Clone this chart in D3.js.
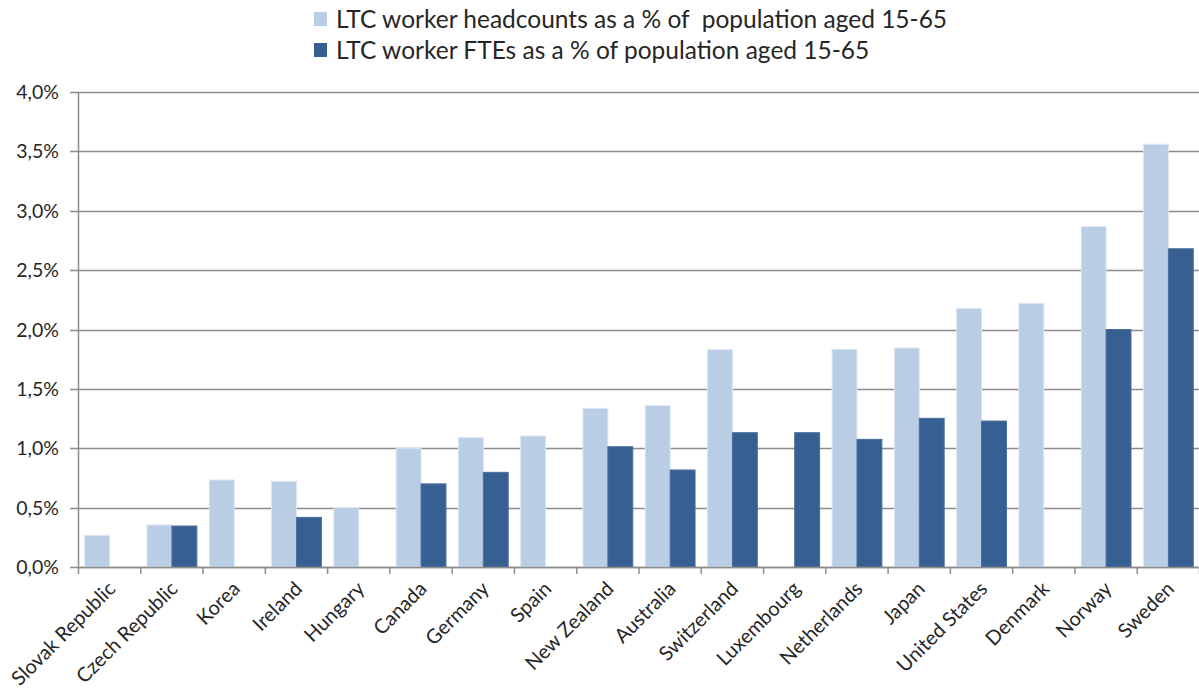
<!DOCTYPE html>
<html>
<head>
<meta charset="utf-8">
<script src="https://cdn.jsdelivr.net/npm/d3@7"></script>
<style>
  html, body { margin: 0; padding: 0; background: #fff; }
  svg { display: block; font-family: Lato, "Open Sans", sans-serif; }
</style>
</head>
<body>
<svg id="chart" width="1199" height="689"></svg>
<script>
const categories = ["Slovak Republic", "Czech Republic", "Korea", "Ireland", "Hungary", "Canada", "Germany", "Spain", "New Zealand", "Australia", "Switzerland", "Luxembourg", "Netherlands", "Japan", "United States", "Denmark", "Norway", "Sweden"];
const headcounts = [0.267, 0.354, 0.733, 0.72, 0.50, 1.0, 1.089, 1.103, 1.336, 1.358, 1.83, null, 1.833, 1.844, 2.178, 2.22, 2.866, 3.56];
const ftes = [null, 0.345, null, 0.418, null, 0.70, 0.797, null, 1.013, 0.817, 1.131, 1.131, 1.075, 1.252, 1.229, null, 2.00, 2.68];
const seriesNames = ["LTC worker headcounts as a % of  population aged 15-65", "LTC worker FTEs as a % of population aged 15-65"];
const yTicks = [0, 0.5, 1.0, 1.5, 2.0, 2.5, 3.0, 3.5, 4.0];

const colors = ["#B9CDE5", "#376092"];
const strokes = ["#DCE6F2", "#4A6E9A"];

const svg = d3.select("#chart");
const mLeft = 78.5, mRight = 1199.5, mTop = 92, mBottom = 567;

const x0 = d3.scaleBand().domain(categories).range([mLeft, mRight]).paddingInner(0.2).paddingOuter(0.1);
const x1 = d3.scaleBand().domain([0, 1]).range([0, x0.bandwidth()]);
const y = d3.scaleLinear().domain([0, 4]).range([mBottom, mTop]);

const fmt = v => d3.format(".1f")(v).replace(".", ",") + "%";

// gridlines
svg.append("g").selectAll("line").data(yTicks).join("line")
  .attr("x1", 70).attr("x2", mRight)
  .attr("y1", d => Math.round(y(d)) + 0.5).attr("y2", d => Math.round(y(d)) + 0.5)
  .attr("stroke", "#8C8C8C").attr("stroke-width", 1.5);

// y labels
svg.append("g").selectAll("text").data(yTicks).join("text")
  .attr("x", 59).attr("y", d => y(d)).attr("dy", "0.36em")
  .attr("text-anchor", "end").attr("font-size", 19.5).attr("fill", "#262626")
  .text(fmt);

// bars
const series = [headcounts, ftes];
series.forEach((vals, si) => {
  svg.append("g").selectAll("rect")
    .data(categories.map((c, i) => ({c, v: vals[i]})).filter(d => d.v != null))
    .join("rect")
    .attr("x", d => x0(d.c) + x1(si))
    .attr("width", x1.bandwidth())
    .attr("y", d => y(d.v))
    .attr("height", d => y(0) - y(d.v))
    .attr("fill", colors[si])
    .attr("stroke", strokes[si]).attr("stroke-width", 1);
});

// axes lines
svg.append("line").attr("x1", mLeft).attr("x2", mLeft).attr("y1", mTop).attr("y2", mBottom)
  .attr("stroke", "#8C8C8C").attr("stroke-width", 1.5);
svg.append("line").attr("x1", mLeft).attr("x2", mRight).attr("y1", Math.round(y(0)) + 0.5).attr("y2", Math.round(y(0)) + 0.5)
  .attr("stroke", "#8C8C8C").attr("stroke-width", 1.5);

// x ticks at category boundaries
const step = x0.step();
const bounds = d3.range(categories.length + 1).map(i => mLeft + i * step);
svg.append("g").selectAll("line").data(bounds).join("line")
  .attr("x1", d => d).attr("x2", d => d)
  .attr("y1", mBottom).attr("y2", mBottom + 7)
  .attr("stroke", "#8C8C8C").attr("stroke-width", 1.5);

// x labels
svg.append("g").selectAll("text").data(categories).join("text")
  .attr("text-anchor", "end")
  .attr("font-size", 20).attr("fill", "#262626")
  .attr("transform", d => `translate(${x0(d) + x0.bandwidth() / 2 + 7},${mBottom + 23}) rotate(-45)`)
  .text(d => d);

// legend
const legend = svg.append("g");
seriesNames.forEach((name, i) => {
  const ly = 19 + i * 31;
  legend.append("rect").attr("x", 314).attr("y", ly - 7).attr("width", 13).attr("height", 14)
    .attr("fill", colors[i]);
  legend.append("text").attr("x", 336).attr("y", ly).attr("dy", "0.36em")
    .attr("font-size", 24.5).attr("fill", "#262626")
    .style("white-space", "pre")
    .text(name);
});
</script>
</body>
</html>
